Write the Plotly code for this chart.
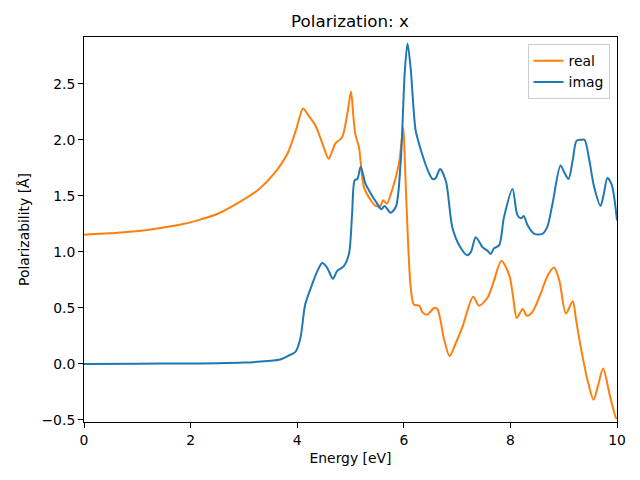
import plotly.graph_objects as go

# Data
real_x = [0, 0.63, 1.25, 1.88, 2.19, 2.51, 2.94, 3.26, 3.57, 3.82, 3.98, 4.11, 4.22, 4.34, 4.47,
          4.59, 4.65, 4.72, 4.84, 4.94, 5.01, 5.05, 5.09, 5.16, 5.25, 5.38, 5.47, 5.56, 5.61,
          5.68, 5.78, 5.91, 5.99, 6.02, 6.05, 6.13, 6.19, 6.29, 6.35, 6.44, 6.57, 6.63, 6.69,
          6.75, 6.86, 6.97, 7.10, 7.30, 7.41, 7.57, 7.69, 7.83, 7.98, 8.05, 8.12, 8.23, 8.31,
          8.42, 8.57, 8.70, 8.82, 8.92, 9.04, 9.17, 9.23, 9.32, 9.45, 9.56, 9.64, 9.74, 9.86,
          9.98, 10.0]
real_y = [1.153, 1.17, 1.20, 1.25, 1.29, 1.34, 1.45, 1.55, 1.70, 1.88, 2.09, 2.28, 2.21, 2.13, 1.97,
          1.83, 1.89, 1.97, 2.02, 2.23, 2.43, 2.23, 2.05, 1.93, 1.58, 1.46, 1.41, 1.41, 1.46,
          1.43, 1.55, 1.79, 2.11, 1.80, 1.43, 0.68, 0.53, 0.52, 0.46, 0.44, 0.50, 0.49, 0.385,
          0.23, 0.07, 0.18, 0.33, 0.60, 0.52, 0.59, 0.74, 0.92, 0.79, 0.60, 0.41, 0.49, 0.43,
          0.47, 0.63, 0.79, 0.86, 0.74, 0.45, 0.56, 0.40, 0.15, -0.15, -0.32, -0.20, -0.04, -0.27,
          -0.48, -0.49]

imag_x = [0, 1.0, 2.0, 2.5, 3.0, 3.45, 3.68, 3.82, 3.97, 4.06, 4.15, 4.28, 4.38, 4.47, 4.56,
          4.67, 4.75, 4.87, 4.97, 5.03, 5.08, 5.13, 5.19, 5.28, 5.38, 5.50, 5.58, 5.64, 5.75,
          5.85, 5.94, 6.02, 6.07, 6.13, 6.22, 6.30, 6.38, 6.44, 6.54, 6.60, 6.68, 6.79, 6.91,
          7.04, 7.19, 7.26, 7.35, 7.48, 7.57, 7.63, 7.69, 7.79, 7.88, 8.04, 8.13, 8.20, 8.25,
          8.32, 8.45, 8.60, 8.69, 8.79, 8.94, 9.01, 9.09, 9.17, 9.24, 9.32, 9.39, 9.48, 9.57,
          9.69, 9.75, 9.82, 9.90, 10.0]
imag_y = [0.0, 0.002, 0.004, 0.006, 0.012, 0.027, 0.04, 0.07, 0.11, 0.23, 0.53, 0.71, 0.83,
          0.90, 0.86, 0.76, 0.83, 0.87, 0.98, 1.34, 1.64, 1.65, 1.76, 1.61, 1.52, 1.43, 1.38,
          1.41, 1.35, 1.40, 1.79, 2.62, 2.86, 2.63, 2.09, 1.94, 1.82, 1.74, 1.65, 1.66, 1.74,
          1.63, 1.22, 1.06, 0.97, 1.00, 1.13, 1.04, 1.01, 0.98, 1.03, 1.06, 1.31, 1.56, 1.33,
          1.30, 1.32, 1.24, 1.16, 1.16, 1.22, 1.43, 1.77, 1.71, 1.65, 1.82, 1.99, 2.00, 2.00,
          1.82, 1.58, 1.41, 1.51, 1.66, 1.60, 1.28]

x_ticks = [0, 2, 4, 6, 8, 10]
y_ticks = [-0.5, 0.0, 0.5, 1.0, 1.5, 2.0, 2.5]
y_tick_labels = ["\u22120.5", "0.0", "0.5", "1.0", "1.5", "2.0", "2.5"]

FONT = "DejaVu Sans"

fig = go.Figure()
fig.add_trace(go.Scatter(x=real_x, y=real_y, mode="lines", name="real",
                         line=dict(color="#ff7f0e", width=2, shape="spline", smoothing=0.8)))
fig.add_trace(go.Scatter(x=imag_x, y=imag_y, mode="lines", name="imag",
                         line=dict(color="#1f77b4", width=2, shape="spline", smoothing=0.8)))

axis_common = dict(showline=True, linecolor="black", linewidth=1, mirror=True,
                   ticks="outside", ticklen=5, tickwidth=1, tickcolor="black",
                   showgrid=False, zeroline=False,
                   tickfont=dict(family=FONT, size=13.9, color="black"))

fig.update_layout(
    width=640, height=480,
    margin=dict(l=84, r=23, t=37, b=58, autoexpand=False),
    paper_bgcolor="white", plot_bgcolor="white",
    font=dict(family=FONT, size=13.9, color="black"),
    title=dict(text="Polarization: x", x=350 / 640, xanchor="center",
               y=1 - 21 / 480, yanchor="middle", yref="container",
               font=dict(family=FONT, size=16.7, color="black")),
    xaxis=dict(range=[0, 10], tickvals=x_ticks, ticktext=[str(v) for v in x_ticks],
               title=dict(text="Energy [eV]", standoff=6, font=dict(family=FONT, size=13.9)),
               **axis_common),
    yaxis=dict(range=[-0.518, 2.917], tickvals=y_ticks, ticktext=y_tick_labels,
               title=dict(text="Polarizability [Å]", standoff=8, font=dict(family=FONT, size=13.9)),
               **axis_common),
    legend=dict(x=0.986, xanchor="right", y=0.981, yanchor="top",
                bgcolor="rgba(255,255,255,0.8)", bordercolor="#cccccc", borderwidth=1,
                font=dict(family=FONT, size=13.9, color="black"),
                itemwidth=30, tracegroupgap=0),
    showlegend=True,
)

fig.write_html("out.html", config={"displayModeBar": False},
               post_script="document.body.style.margin='0';")
